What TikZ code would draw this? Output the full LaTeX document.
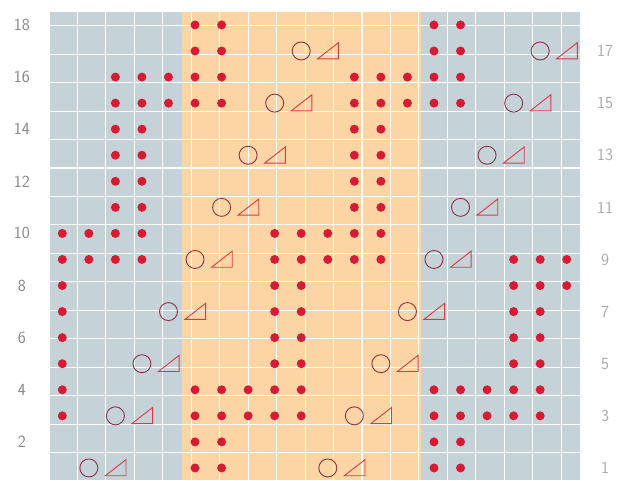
\documentclass[tikz,border=0pt]{standalone}
\usepackage{tikz}
\usetikzlibrary{positioning}
\definecolor{chartblue}{RGB}{197,210,216}
\definecolor{chartorange}{RGB}{253,213,164}
\definecolor{dotred}{RGB}{214,28,52}
\definecolor{ringred}{RGB}{140,50,70}
\definecolor{trired}{RGB}{214,60,70}
\definecolor{rowgray}{RGB}{135,135,135}

\begin{document}
\begin{tikzpicture}[x=26.55pt, y=26.06pt,
    dot/.style={circle, fill=dotred, inner sep=0pt, minimum size=9pt},
    ring/.style={circle, draw=ringred, line width=0.9pt, inner sep=0pt, minimum size=18pt},
    tri/.style={draw=trired, line width=0.9pt, line join=miter},
    rownum/.style={text=rowgray, font=\sffamily\fontsize{17}{19}\selectfont},
    gridline/.style={white, line width=1.1pt}]

    \useasboundingbox (-1.846,0) rectangle (21.657,18.457);

    % background panels and grid
    \fill[chartblue] (0,0) rectangle (20,18);
    \fill[chartorange] (5,0) rectangle (14,18);
    \draw[gridline] (0,0) grid (20,18);

    % row numbers
    \foreach \r in {2,4,...,18}
        \node[rownum] (left\r) at (-1.02,\r-0.5) {\r};
    \foreach \r in {1,3,...,17}
        \node[rownum, text=rowgray!70] (right\r) at (20.95,\r-0.5) {\r};

    % dots, row/columns
    \foreach \r/\cols in {18/{6,7,15,16}, 17/{6,7,15,16},
        16/{3,4,5,6,7,12,13,14,15,16}, 15/{3,4,5,6,7,12,13,14,15,16},
        14/{3,4,12,13}, 13/{3,4,12,13}, 12/{3,4,12,13}, 11/{3,4,12,13},
        10/{1,2,3,4,9,10,11,12,13}, 9/{1,2,3,4,9,10,11,12,13,18,19,20},
        8/{1,9,10,18,19,20}, 7/{1,9,10,18,19}, 6/{1,9,10,18,19}, 5/{1,9,10,18,19},
        4/{1,6,7,8,9,10,15,16,17,18,19}, 3/{1,6,7,8,9,10,15,16,17,18,19},
        2/{6,7,15,16}, 1/{6,7,15,16}}
        \foreach \c in \cols
            \node[dot] (d\r-\c) at (\c-0.5,\r-0.5) {};

    % yarn over + decrease pairs
    \foreach \r/\c in {17/10, 17/19, 15/9, 15/18, 13/8, 13/17, 11/7, 11/16,
        9/6, 9/15, 7/5, 7/14, 5/4, 5/13, 3/3, 3/12, 1/2, 1/11} {
        \node[ring] (o\r-\c) at (\c-0.5,\r-0.5) {};
        \draw[tri] (\c+0.12,\r-0.8) -- (\c+0.9,\r-0.8) -- (\c+0.9,\r-0.18) -- cycle;
    }

\end{tikzpicture}
\end{document}
